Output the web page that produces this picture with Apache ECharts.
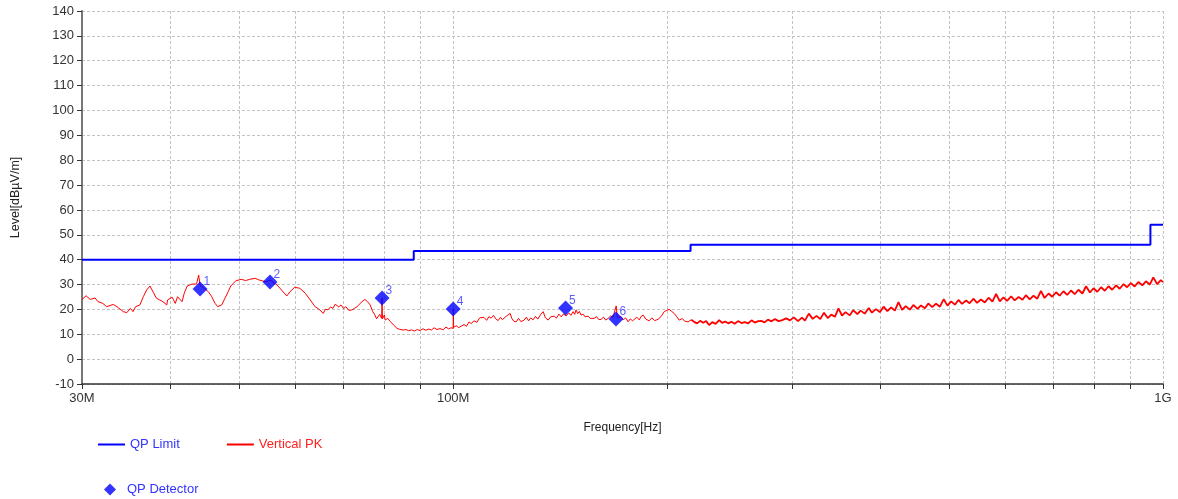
<!DOCTYPE html>
<html>
<head>
<meta charset="utf-8">
<title>Radiated emission</title>
<script src="https://cdn.jsdelivr.net/npm/echarts@6/dist/echarts.min.js"></script>
<style>
  html, body { margin: 0; padding: 0; background: #fff; }
  #chart { width: 1178px; height: 499px; }
</style>
</head>
<body>
<div id="chart"></div>
<script>
// frequencies in MHz, levels in dBuV/m
var xTickMHz = [30, 40, 50, 60, 70, 80, 90, 100, 200, 300, 400, 500, 600, 700, 800, 900, 1000];
var xLabelMHz = [30, 100, 1000];
var xLabelText = {30: '30M', 100: '100M', 1000: '1G'};

var limitFreq = [30, 88, 88, 216, 216, 960, 960, 1000];
var limitLevel = [40, 40, 43.5, 43.5, 46, 46, 54, 54];

var qpFreq = [44.0, 55.2, 79.4, 100.0, 144.0, 169.6];
var qpLevel = [28.2, 31.0, 24.6, 20.2, 20.6, 16.1];
var qpNames = ['1', '2', '3', '4', '5', '6'];

// peak trace, 30M - 100M
var pkLow = [
    [30.0,24.0],[30.4,25.5],[30.8,24.0],[31.3,24.6],[31.6,23.1],[32.1,22.4],[32.5,21.1],[33.2,22.0],
    [33.6,21.1],[34.3,19.1],[34.7,18.7],[35.1,20.4],[35.4,19.1],[35.7,21.1],[36.2,21.8],[36.6,25.1],
    [37.0,27.8],[37.4,29.4],[37.8,26.9],[38.2,24.5],[38.6,23.8],[39.0,23.1],[39.5,21.8],[39.6,23.8],
    [40.2,24.9],[40.6,22.4],[40.9,25.1],[41.5,23.1],[41.8,26.5],[42.2,29.4],[42.9,30.2],[43.5,30.2],
    [43.8,33.8],[44.0,29.7],[44.6,28.5],[45.2,27.1],[45.7,25.1],[46.2,22.4],[46.6,21.1],[47.2,21.8],
    [47.7,24.5],[48.2,27.1],[48.6,29.4],[49.4,31.5],[50.3,32.1],[51.0,31.6],[51.7,32.1],[52.6,32.5],
    [53.2,31.9],[53.8,31.5],[54.5,31.1],[55.2,31.8],[56.5,29.8],[57.3,27.8],[58.3,25.4],[58.9,27.1],
    [59.8,28.9],[60.8,28.5],[61.9,26.5],[62.9,23.8],[63.9,21.1],[64.9,19.8],[65.6,18.4],[66.1,20.1],
    [66.6,19.8],[67.2,21.0],[67.7,20.4],[68.2,22.1],[68.6,22.4],[69.0,21.0],[69.5,21.8],[70.1,20.3],
    [70.6,21.1],[71.3,19.6],[72.0,19.8],[72.6,20.4],[73.2,21.1],[74.4,23.1],[75.1,24.0],[75.8,23.0],
    [76.4,21.8],[77.0,19.2],[77.6,17.7],[78.0,16.2],[78.4,15.7],[78.8,18.0],[79.3,16.4],[79.4,24.6],
    [79.5,16.2],[80.0,17.8],[80.2,15.7],[80.9,16.4],[81.5,15.2],[82.0,14.4],[82.6,13.5],[83.3,12.4],
    [84.0,12.0],[85.0,11.7],[85.8,11.9],[86.6,11.4],[87.4,11.8],[88.2,11.3],[89.0,11.9],[89.8,11.5],
    [90.7,12.2],[91.5,11.6],[92.4,12.1],[93.2,11.7],[94.0,12.6],[94.9,11.9],[95.8,12.3],[96.8,11.8],
    [97.7,12.9],[98.5,12.2],[99.3,12.6],[100.0,12.4],[100.05,20.2],[100.15,12.8]
];

// peak trace, 100M - 216M
var pkMid = [
    [101.0,13.4],[101.8,12.7],[102.6,13.2],[103.6,13.9],[104.4,13.2],
    [105.3,15.0],[106.0,14.3],[107.0,15.4],[108.0,14.8],[109.0,16.6],[109.5,15.9],[110.5,16.8],
    [111.5,15.6],[112.3,17.1],[113.1,16.5],[114.0,17.6],[114.8,16.2],[115.7,15.5],[116.6,16.8],
    [117.3,15.9],[118.0,16.6],[119.0,17.4],[120.3,18.4],[121.0,16.3],[121.8,15.2],[122.7,15.0],
    [123.6,16.4],[124.6,15.1],[125.9,15.7],[126.8,16.9],[127.7,15.4],[128.6,16.6],[129.6,15.8],
    [130.6,17.2],[131.6,16.1],[132.7,17.8],[133.9,19.1],[134.9,16.6],[136.1,15.7],[137.2,17.0],
    [138.8,17.3],[139.8,16.5],[140.9,18.1],[142.0,17.0],[143.0,18.2],[144.3,17.4],[145.5,18.6],
    [146.5,17.6],[147.6,19.1],[148.3,18.0],[149.0,19.8],[149.8,18.3],[150.6,19.2],[151.4,17.7],
    [152.4,18.1],[153.4,17.0],[154.9,17.3],[156.0,16.4],[157.0,17.2],[158.0,16.4],[159.2,17.1],
    [160.4,15.9],[161.6,16.0],[162.8,16.9],[164.0,15.7],[165.3,16.4],[166.6,17.3],[168.0,17.0],
    [169.0,16.2],[169.7,21.4],[170.3,16.8],[171.4,17.6],[172.5,17.0],[173.6,15.8],[175.0,16.6],
    [176.4,15.0],[177.6,16.2],[179.0,15.4],[179.9,15.7],[181.4,16.9],[182.9,15.8],[184.0,17.2],
    [185.2,17.7],[186.8,16.1],[188.8,15.4],[190.5,16.6],[192.3,15.5],[194.4,16.0],[196.4,17.2],
    [198.3,19.1],[200.0,19.6],[201.5,20.0],[203.0,19.3],[204.8,18.4],[206.6,17.0],[208.2,15.7],
    [210.2,16.3],[212.2,15.2],[214.3,15.0],[216.4,15.8]
];

// peak trace, 216M - 1G (dense, noisy band)
var pkHigh = [
    [216.4,15.8],[218.5,15.0],[220.6,14.4],[222.8,15.4],
    [225.0,14.6],[227.2,15.3],[229.4,13.7],[231.7,14.9],[234.3,14.2],[237.0,15.7],[239.3,14.6],
    [241.6,15.1],[244.0,14.4],[246.6,15.0],[249.2,14.2],[252.0,15.3],[254.8,14.5],[257.6,14.9],
    [260.4,14.4],[263.2,15.6],[266.0,14.7],[269.0,15.3],[271.6,15.4],[274.6,14.8],[277.6,15.9],
    [280.8,15.2],[284.0,16.1],[287.4,15.3],[290.8,15.7],[294.5,16.4],[298.2,15.6],
    [302,16.8],[306,15.3],[310,16.7],[313,15.5],[317,18.3],[321,16.2],[325,17.4],[329,16.1],
    [333,18.7],[337,16.5],[341,17.9],[345,17.0],[349,20.4],[353,17.5],[357,18.9],[362,17.6],
    [366,19.7],[371,18.1],[375,19.5],[380,18.3],[385,20.6],[389,18.7],[394,20.1],[399,18.9],
    [404,21.1],[409,19.3],[414,20.8],[419,19.5],[424,22.9],[429,19.8],[434,21.3],[440,19.9],
    [445,21.8],[451,20.2],[456,21.6],[462,20.5],[467,22.4],[473,20.9],[479,22.3],[485,21.1],
    [491,24.1],[497,21.5],[503,23.2],[509,21.9],[515,23.8],[521,22.2],[528,23.6],[534,22.5],
    [541,24.3],[547,22.6],[554,24.0],[561,22.8],[568,24.7],[575,23.1],[582,26.2],[589,23.2],
    [596,24.8],[603,23.4],[611,25.3],[618,23.6],[626,25.0],[634,23.9],[641,25.7],[649,24.0],
    [657,25.5],[665,24.3],[673,27.4],[681,24.6],[690,26.4],[698,25.1],[707,26.9],[715,25.5],
    [724,27.3],[733,25.8],[742,27.6],[751,26.1],[760,27.9],[770,26.4],[779,29.3],[789,26.8],
    [798,28.5],[808,27.1],[818,28.9],[828,27.5],[838,29.3],[848,27.9],[859,29.7],[869,28.3],
    [880,30.2],[890,28.9],[901,30.6],[912,29.2],[923,31.0],[935,29.7],[946,31.3],[958,30.0],
    [969,32.9],[981,30.2],[993,31.8],[1000,31.0]
];

function lg(f) { return Math.log10(f); }
function toXY(p) { return [lg(p[0]), p[1]]; }

var limitData = limitFreq.map(function (f, i) { return [lg(f), limitLevel[i]]; });
var pkDataA = pkLow.concat(pkMid).map(toXY);
var pkDataB = pkHigh.map(toXY);
var qpData = qpFreq.map(function (f, i) { return {name: qpNames[i], value: [lg(f), qpLevel[i]]}; });

var fontFamily = 'Arial, "Liberation Sans", sans-serif';
var gridLine = {show: true, lineStyle: {color: '#c4c4c4', type: [3, 2], width: 1}};

var chart = echarts.init(document.getElementById('chart'));

option = {
    backgroundColor: '#ffffff',
    animation: false,
    textStyle: {fontFamily: fontFamily},
    grid: {left: 82, right: 15, top: 11, bottom: 115, containLabel: false},
    legend: [
        {
            left: 98, top: 438, padding: 0,
            itemWidth: 27, itemHeight: 2, itemGap: 47,
            textStyle: {fontSize: 13, fontFamily: fontFamily},
            data: [
                {name: 'QP Limit', icon: 'rect', textStyle: {color: '#3333ff'}},
                {name: 'Vertical PK', icon: 'rect', textStyle: {color: '#ff2020'}}
            ]
        },
        {
            left: 104, top: 483, padding: 0,
            itemWidth: 12, itemHeight: 12,
            textStyle: {fontSize: 13, fontFamily: fontFamily, color: '#3333ff', padding: [0, 0, 0, 6]},
            data: [{name: 'QP Detector', icon: 'diamond'}]
        }
    ],
    xAxis: {
        type: 'value',
        min: lg(30),
        max: lg(1000),
        name: 'Frequency[Hz]',
        nameLocation: 'middle',
        nameGap: 38,
        nameTextStyle: {fontSize: 12, color: '#222'},
        axisLine: {show: true, onZero: false, lineStyle: {color: '#333', width: 1.5}},
        axisTick: {show: true, length: 5, lineStyle: {color: '#333'},
            customValues: xTickMHz.map(lg)},
        axisLabel: {
            fontSize: 13, color: '#333', margin: 8,
            customValues: xLabelMHz.map(lg),
            formatter: function (v) {
                var f = Math.round(Math.pow(10, v));
                return xLabelText[f] || '';
            }
        },
        splitLine: gridLine
    },
    yAxis: {
        type: 'value',
        min: -10,
        max: 140,
        interval: 10,
        name: 'Level[dBµV/m]',
        nameLocation: 'middle',
        nameGap: 60,
        nameTextStyle: {fontSize: 12.5, color: '#222'},
        axisLine: {show: true, lineStyle: {color: '#777', width: 2}},
        axisTick: {show: true, length: 5, lineStyle: {color: '#333'}},
        axisLabel: {fontSize: 13, color: '#333', margin: 8},
        splitLine: gridLine
    },
    series: [
        {
            name: 'QP Limit',
            type: 'line',
            data: limitData,
            showSymbol: false,
            symbol: 'none',
            lineStyle: {color: '#0000ff', width: 2},
            itemStyle: {color: '#0000ff'},
            z: 3
        },
        {
            name: 'Vertical PK',
            type: 'line',
            data: pkDataA,
            showSymbol: false,
            symbol: 'none',
            lineStyle: {color: '#ff0000', width: 1},
            itemStyle: {color: '#ff0000'},
            z: 2
        },
        {
            name: 'Vertical PK',
            type: 'line',
            data: pkDataB,
            showSymbol: false,
            symbol: 'none',
            lineStyle: {color: '#ff0000', width: 1.8},
            itemStyle: {color: '#ff0000'},
            z: 2
        },
        {
            name: 'QP Detector',
            type: 'scatter',
            data: qpData,
            symbol: 'diamond',
            symbolSize: 15,
            itemStyle: {color: '#0000ff'},
            label: {
                show: true,
                position: 'right',
                distance: 0,
                offset: [-4, -7],
                formatter: '{b}',
                fontSize: 12,
                color: '#3333ff'
            },
            z: 4
        }
    ]
};

chart.setOption(option);
</script>
</body>
</html>
